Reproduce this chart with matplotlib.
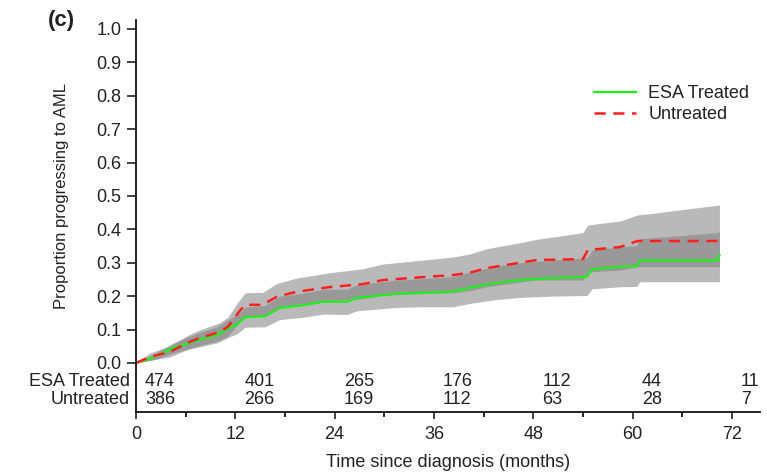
import matplotlib
matplotlib.use("Agg")
import matplotlib.pyplot as plt

plt.rcParams["font.family"] = ["Liberation Sans", "DejaVu Sans"]

# cumulative incidence of AML, ESA treated
t_esa = [0, 2, 4.5, 6.5, 8, 9.8, 11.3, 12.2, 13.2, 15.6, 17.4, 20, 22.6, 25.5, 26.7,
         31.5, 34.3, 38.3, 40.3, 43.6, 46.4, 50.4, 54.5, 55.1, 58.5, 60.5, 60.9, 70.3, 70.5]
y_esa = [0, 0.015, 0.045, 0.06, 0.072, 0.084, 0.105, 0.115, 0.137, 0.14, 0.165, 0.172, 0.183, 0.183, 0.195,
         0.207, 0.21, 0.213, 0.225, 0.24, 0.248, 0.254, 0.258, 0.28, 0.288, 0.29, 0.307, 0.307, 0.323]
lo_esa = [0, 0.008, 0.03, 0.042, 0.05, 0.06, 0.078, 0.087, 0.107, 0.108, 0.13, 0.136, 0.146, 0.145, 0.156,
          0.166, 0.168, 0.168, 0.178, 0.19, 0.196, 0.2, 0.202, 0.222, 0.228, 0.229, 0.243, 0.243, 0.243]
hi_esa = [0, 0.025, 0.06, 0.08, 0.094, 0.108, 0.132, 0.143, 0.167, 0.172, 0.2, 0.208, 0.22, 0.221, 0.234,
          0.248, 0.252, 0.258, 0.272, 0.29, 0.3, 0.308, 0.314, 0.338, 0.348, 0.351, 0.372, 0.39, 0.393]

# untreated
t_un = [0, 1.7, 4.1, 6.2, 7.4, 10.1, 11.1, 12.6, 13.2, 15.3, 17, 19.4, 23.4, 27.4, 29.8,
        34.7, 38.3, 40.3, 42.4, 46.4, 48.4, 54, 54.6, 58.5, 60.6, 62.4, 70.5]
y_un = [0, 0.018, 0.033, 0.06, 0.072, 0.093, 0.108, 0.158, 0.174, 0.174, 0.198, 0.213, 0.227, 0.236, 0.248,
        0.257, 0.263, 0.27, 0.284, 0.3, 0.308, 0.311, 0.338, 0.347, 0.365, 0.365, 0.365]
lo_un = [0, 0.008, 0.018, 0.04, 0.05, 0.067, 0.08, 0.126, 0.14, 0.139, 0.161, 0.175, 0.186, 0.192, 0.202,
         0.208, 0.21, 0.216, 0.228, 0.242, 0.248, 0.248, 0.272, 0.278, 0.288, 0.288, 0.288]
hi_un = [0, 0.03, 0.05, 0.082, 0.096, 0.12, 0.137, 0.192, 0.21, 0.211, 0.238, 0.254, 0.27, 0.282, 0.296,
         0.308, 0.317, 0.326, 0.342, 0.36, 0.37, 0.39, 0.413, 0.425, 0.443, 0.448, 0.473]

# numbers at risk
risk_times = [0, 12, 24, 36, 48, 60, 72]
risk_esa = [474, 401, 265, 176, 112, 44, 11]
risk_un = [386, 266, 169, 112, 63, 28, 7]
groups = ["ESA Treated", "Untreated"]

txt = "#222222"
fs = 13
fig = plt.figure(figsize=(7.67, 4.73), dpi=100)
ax = fig.add_axes([0.1773, 0.129, 0.8136, 0.8288])

ax.fill_between(t_un, lo_un, hi_un, color="#808080", alpha=0.55, lw=0)
ax.fill_between(t_esa, lo_esa, hi_esa, color="#808080", alpha=0.55, lw=0)
ax.plot(t_esa, y_esa, color="#1ef01e", lw=1.6, label=groups[0])
ax.plot(t_un, y_un, color="#ff2020", lw=1.8, ls=(0, (4.5, 3)), label=groups[1])

ax.set_xlim(0, 75.4)
ax.set_ylim(-0.147, 1.027)
ax.set_yticks([i / 10 for i in range(11)])
ax.set_yticklabels([f"{i / 10:.1f}" for i in range(11)])
ax.set_xticks(range(0, 73, 12))
ax.set_xticks(range(6, 73, 12), minor=True)
ax.tick_params(axis="both", which="major", length=6.5, width=1.2, labelsize=fs, colors=txt, pad=4)
ax.tick_params(axis="x", which="minor", length=3.5, width=1.2)
ax.tick_params(axis="x", which="major", length=5, pad=5)
for s in ["top", "right"]:
    ax.spines[s].set_visible(False)
for s in ["left", "bottom"]:
    ax.spines[s].set_linewidth(1.3)
    ax.spines[s].set_color("#111111")

# at-risk table
row_y = [-0.057, -0.111]
for rows, yy, name in zip([risk_esa, risk_un], row_y, groups):
    for t, n in zip(risk_times, rows):
        ax.text(t + 1.1, yy, str(n), ha="left", va="center", fontsize=fs, color=txt)
    ax.text(-0.7, yy, name, ha="right", va="center", fontsize=fs, color=txt)

ax.text(-0.119, 0.5, "Proportion progressing to AML", rotation=90, ha="center", va="center",
        fontsize=12, color=txt, transform=ax.get_yaxis_transform())
ax.set_xlabel("Time since diagnosis (months)", fontsize=fs, color=txt, labelpad=8)
fig.text(0.062, 0.956, "(c)", fontsize=16, fontweight="bold", color=txt, ha="left", va="center")

leg = ax.legend(loc="upper right", bbox_to_anchor=(1.0, 0.862), frameon=False, fontsize=fs,
                handlelength=2.3, handletextpad=0.7, labelspacing=0.22, borderaxespad=0.2)
for t in leg.get_texts():
    t.set_color(txt)

fig.savefig("out.png", dpi=100)
